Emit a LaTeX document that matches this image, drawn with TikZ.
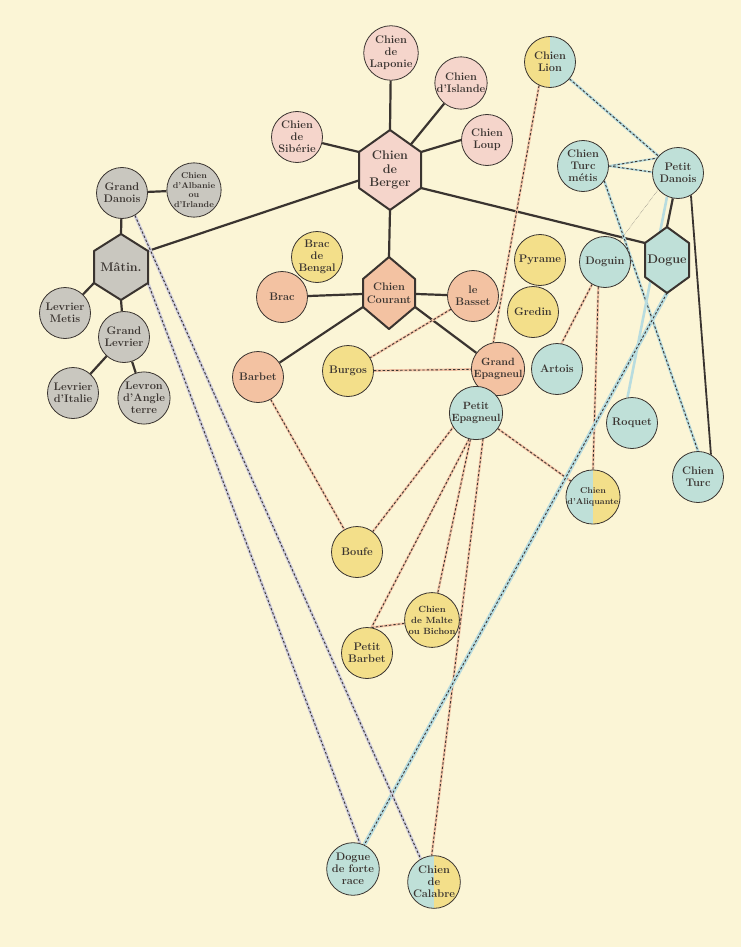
\documentclass[tikz,border=0pt]{standalone}
\usetikzlibrary{backgrounds}
\definecolor{papier}{HTML}{FBF5D6}
\definecolor{rose}{HTML}{F5D5CB}
\definecolor{gris}{HTML}{C9C7BF}
\definecolor{saumon}{HTML}{F3C2A2}
\definecolor{jaune}{HTML}{F3DF8A}
\definecolor{bleu}{HTML}{BFE0D8}
\definecolor{encre}{HTML}{3A3430}
\definecolor{bandeorange}{HTML}{F4C4A6}
\definecolor{bandebleue}{HTML}{B8DCDF}
\definecolor{bandegrise}{HTML}{CFCDDC}
\begin{document}
\begin{tikzpicture}[x=1pt,y=-1pt,line join=round,line cap=round,
chien/.style={circle,draw=encre,line width=.8pt,minimum size=51pt,inner sep=0pt,align=center,text=encre,font=\fontsize{11}{12}\selectfont\bfseries},
demi/.style 2 args={path picture={
 \fill[#1] (path picture bounding box.south west) rectangle (path picture bounding box.north);
 \fill[#2] (path picture bounding box.north) rectangle (path picture bounding box.south east);}},
hexa/.style={draw=encre,line width=2pt},
texte/.style={align=center,text=encre,inner sep=0pt,font=\fontsize{12.5}{13.5}\selectfont\bfseries},
trait/.style={draw=encre,line width=2.2pt},
tirets/.style={draw=encre,line width=.9pt,line cap=butt,dash pattern=on 2.4pt off 2pt},
lienO/.style={draw=bandeorange,line width=2.4pt,postaction={tirets}},
lienB/.style={draw=bandebleue,line width=2.8pt,postaction={tirets}},
lienG/.style={draw=bandegrise,line width=3pt,postaction={tirets}},
bandeB/.style={draw=bandebleue,line width=2.6pt},
pointille/.style={draw=encre!70,line width=.5pt,densely dotted}]
\useasboundingbox (0,0) rectangle (741,947);
% les quatre souches
\foreach \nom/\x/\y/\w/\h/\s/\teinte in {berger/390/170/31/40/18/rose,courant/389/293/26/36/14/saumon,matin/121/267/27/33/16/gris,dogue/667/260/22/33/17/bleu}
\filldraw[hexa,fill=\teinte] (\x,\y) coordinate (\nom-c)
 +(0,-\h) coordinate (\nom-n) -- +(\w,-\s) coordinate (\nom-ne) -- +(\w,\s) coordinate (\nom-se)
 -- +(0,\h) coordinate (\nom-s) -- +(-\w,\s) coordinate (\nom-sw) -- +(-\w,-\s) coordinate (\nom-nw) -- cycle;
\path 
(berger-c) node[texte] (berger) {Chien\\de\\Berger}
(courant-c) node[texte,font=\fontsize{11}{12.5}\selectfont\bfseries] (courant) {Chien\\Courant}
(matin-c) node[texte] (matin) {Mâtin.}
(dogue-c) node[texte] (dogue) {Dogue};
\path 
(391,53) node[chien,fill=rose] (laponie) {Chien\\de\\Laponie}
(461,83) node[chien,fill=rose] (islande) {Chien\\d'Islande}
(487,140) node[chien,fill=rose] (loup) {Chien\\Loup}
(297,137) node[chien,fill=rose] (siberie) {Chien\\de\\Sibérie}
(122,193) node[chien,fill=gris] (gdanois) {Grand\\Danois}
(194,190) node[chien,fill=gris,font=\fontsize{8.5}{9.5}\selectfont\bfseries] (albanie) {Chien\\d'Albanie\\ou\\d'Irlande}
(65,313) node[chien,fill=gris] (lmetis) {Levrier\\Metis}
(124,337) node[chien,fill=gris] (glevrier) {Grand\\Levrier}
(73,393) node[chien,fill=gris] (litalie) {Levrier\\d'Italie}
(144,398) node[chien,fill=gris] (levron) {Levron\\d'Angle\\terre}
(317,257) node[chien,fill=jaune] (bengal) {Brac\\de\\Bengal}
(282,297) node[chien,fill=saumon] (brac) {Brac}
(473,296) node[chien,fill=saumon] (basset) {le\\Basset}
(258,377) node[chien,fill=saumon] (barbet) {Barbet}
(348,371) node[chien,fill=jaune] (burgos) {Burgos}
(498,369) node[chien,fill=saumon,font=\fontsize{10.5}{12}\selectfont\bfseries] (gepagneul) {Grand\\Epagneul}
(476,413) node[chien,fill=bleu,font=\fontsize{10.5}{12}\selectfont\bfseries] (pepagneul) {Petit\\Epagneul}
(550,62) node[chien,demi={jaune}{bleu}] (lion) {Chien\\Lion}
(583,166) node[chien,fill=bleu] (cmetis) {Chien\\Turc\\métis}
(678,173) node[chien,fill=bleu] (pdanois) {Petit\\Danois}
(540,260) node[chien,fill=jaune] (pyrame) {Pyrame}
(533,312) node[chien,fill=jaune] (gredin) {Gredin}
(605,262) node[chien,fill=bleu] (doguin) {Doguin}
(557,369) node[chien,fill=bleu] (artois) {Artois}
(632,423) node[chien,fill=bleu] (roquet) {Roquet}
(698,477) node[chien,fill=bleu] (cturc) {Chien\\Turc}
(593,497) node[chien,demi={bleu}{jaune},font=\fontsize{8.5}{10.5}\selectfont\bfseries] (aliquante) {Chien\\d'Aliquante}
(357,552) node[chien,fill=jaune] (boufe) {Boufe}
(432,620) node[chien,fill=jaune,font=\fontsize{9}{11}\selectfont\bfseries] (malte) {Chien\\de Malte\\ou Bichon}
(367,653) node[chien,fill=jaune] (pbarbet) {Petit\\Barbet}
(353,869) node[chien,fill=bleu] (dforte) {Dogue\\de forte\\race}
(434,882) node[chien,demi={bleu}{jaune}] (calabre) {Chien\\de\\Calabre};
\begin{scope}[on background layer]
\fill[papier] (0,0) rectangle (741,947);
% filiations directes
\draw[trait] (laponie) -- (berger-n);
\draw[trait] (islande) -- (berger.center);
\draw[trait] (loup.west) -- (berger-ne);
\draw[trait] (siberie) -- (berger-nw);
\draw[trait] (berger-s) -- (courant-n);
\draw[trait] (matin-ne) -- (berger.center);
\draw[trait] (berger-se) -- (dogue-nw);
\draw[trait] (gdanois) -- (matin-n);
\draw[trait] (gdanois) -- (albanie);
\draw[trait] (matin-sw) -- (lmetis);
\draw[trait] (matin-s) -- (glevrier);
\draw[trait] (glevrier) -- (litalie);
\draw[trait] (glevrier) -- (levron);
\draw[trait] (brac) -- (courant.center);
\draw[trait] (courant.center) -- (basset);
\draw[trait] (courant-sw) -- (barbet);
\draw[trait] (courant-se) -- (gepagneul);
\draw[trait] (pdanois) -- (dogue-n);
\draw[trait,line width=1.8pt] (pdanois.-60) -- (cturc.60);
% metissages
\draw[lienO] (lion.-115) -- (gepagneul.100);
\draw[lienO] (basset) -- (burgos);
\draw[lienO] (burgos) -- (gepagneul);
\draw[lienO] (barbet) -- (boufe);
\draw[lienO] (gepagneul) -- (boufe);
\draw[lienO] (pepagneul.-105) -- (pbarbet.80);
\draw[lienO] (pepagneul) -- (malte);
\draw[lienO] (malte) -- (pbarbet.80);
\draw[lienO] (pepagneul.-75) -- (calabre.95);
\draw[lienO] (pepagneul) -- (aliquante);
\draw[lienO] (doguin.-120) -- (artois.80);
\draw[lienO] (doguin.-105) -- (aliquante.north);
\draw[lienB] (lion) -- (pdanois);
\draw[lienB,line width=2pt] (cmetis.east) -- (pdanois.145);
\draw[lienB,line width=2pt] (cmetis.east) -- (pdanois.178);
\draw[lienB] (cmetis.-35) -- (cturc.north);
\draw[bandeB] (pdanois.-115) -- (roquet.100);
\draw[lienB,line width=4pt] (dogue-s) -- (dforte.65);
\draw[lienG] (matin-se) -- (dforte.75);
\draw[lienG] (gdanois.-60) -- (calabre.120);
\draw[pointille] (pdanois.-140) -- (doguin.55);
\end{scope}
\end{tikzpicture}
\end{document}
